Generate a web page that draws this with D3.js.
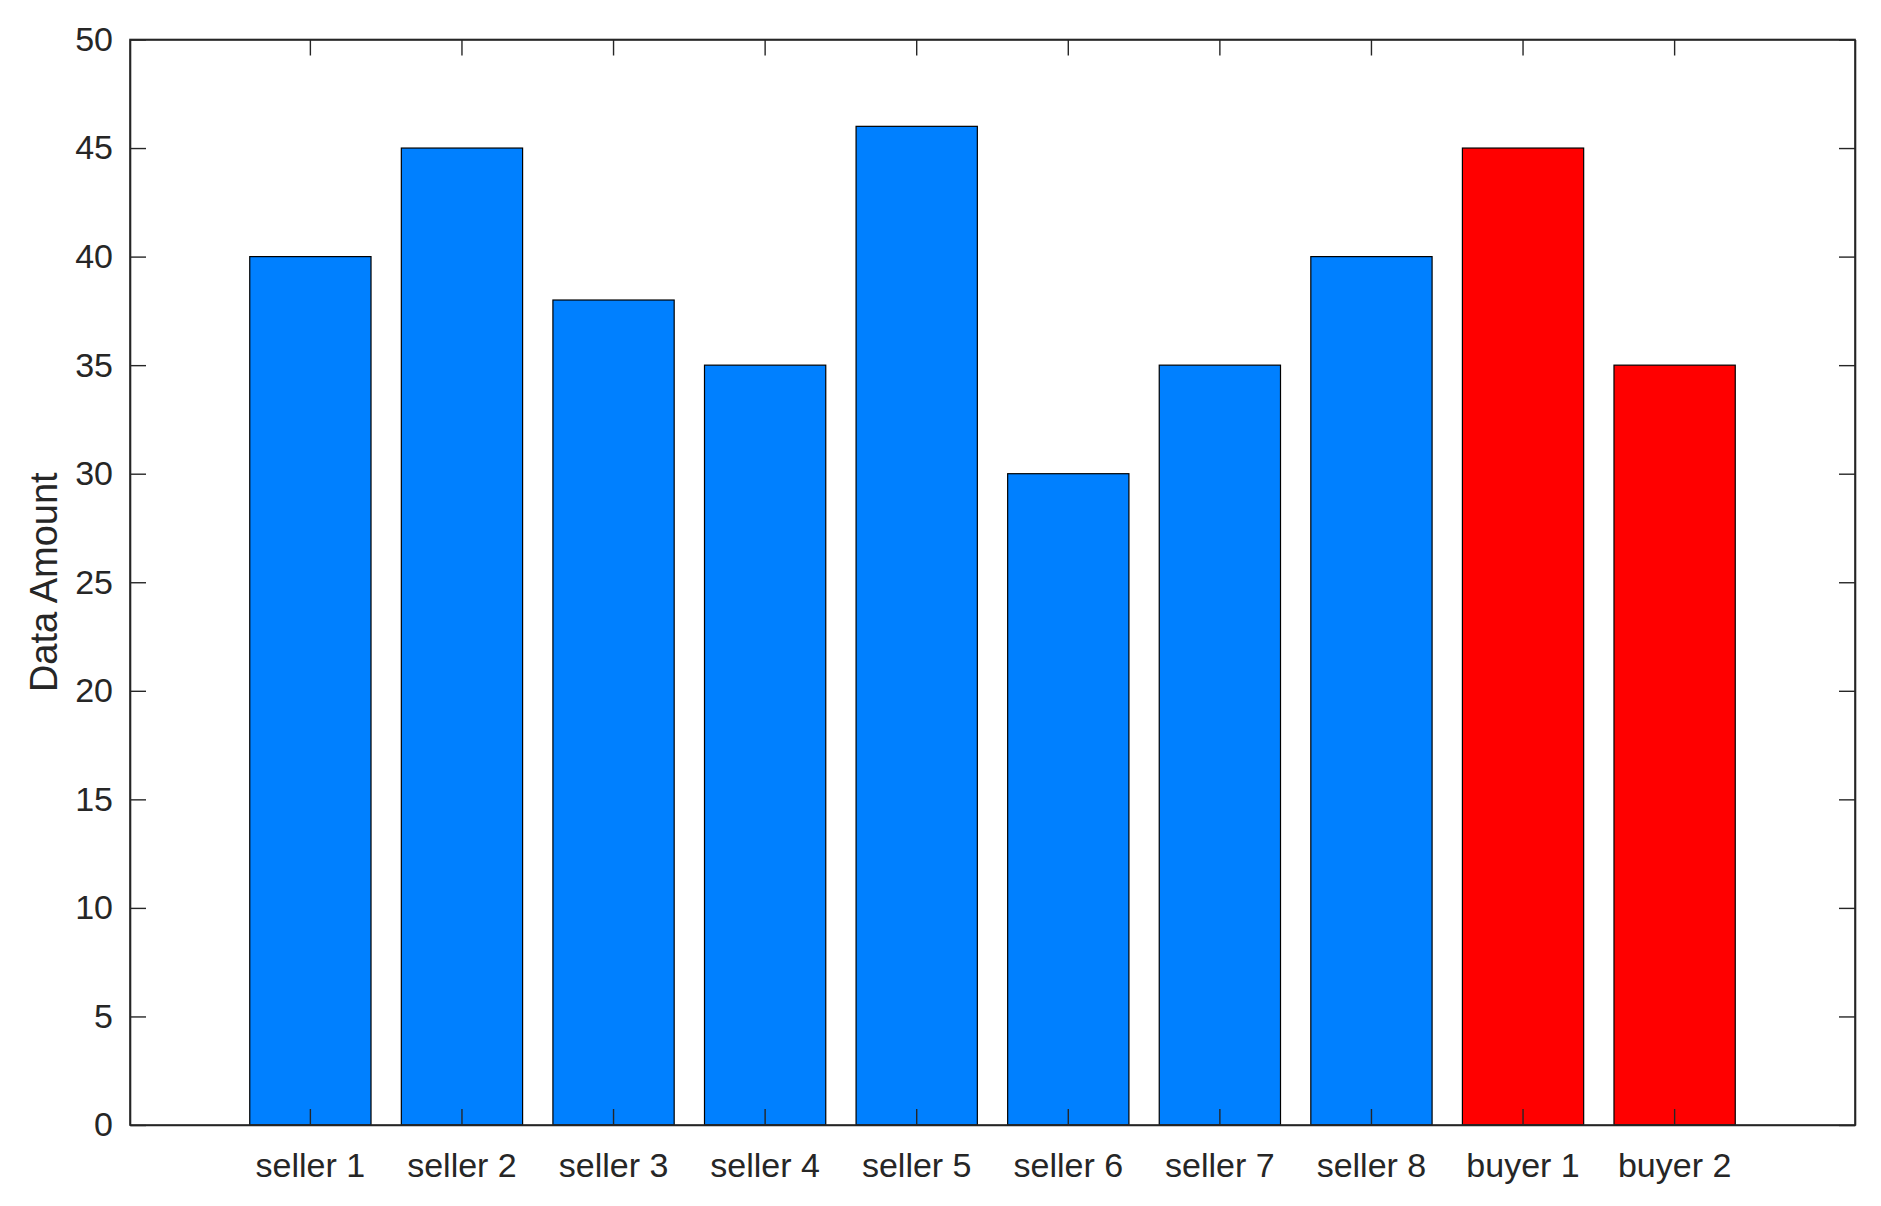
<!DOCTYPE html>
<html>
<head>
<meta charset="utf-8">
<script src="https://cdn.jsdelivr.net/npm/d3@7"></script>
<style>
  html, body { margin: 0; padding: 0; background: #fff; }
  svg { display: block; }
  text { font-family: "Liberation Sans", Arial, sans-serif; }
</style>
</head>
<body>
<script>
const categories = ["seller 1","seller 2","seller 3","seller 4","seller 5","seller 6","seller 7","seller 8","buyer 1","buyer 2"];
const values = [40, 45, 38, 35, 46, 30, 35, 40, 45, 35];
const barColors = ["#0080ff","#0080ff","#0080ff","#0080ff","#0080ff","#0080ff","#0080ff","#0080ff","#ff0000","#ff0000"];
const yTicks = [0, 5, 10, 15, 20, 25, 30, 35, 40, 45, 50];
const yLabel = "Data Amount";

(function () {
const W = 1881, H = 1206;
const pL = 130, pR = 1855, pT = 39.5, pB = 1125;
const axisColor = "#262626";

const svg = d3.select("body").append("svg").attr("width", W).attr("height", H);

const x = d3.scaleBand().domain(categories).range([pL, pR]).paddingInner(0.2).paddingOuter(0.79);
const y = d3.scaleLinear().domain([0, 50]).range([pB, pT]);

// bars
svg.append("g").selectAll("rect").data(values).join("rect")
  .attr("x", (d, i) => x(categories[i]))
  .attr("width", x.bandwidth())
  .attr("y", d => y(d))
  .attr("height", d => y(0) - y(d))
  .attr("fill", (d, i) => barColors[i])
  .attr("stroke", "#000")
  .attr("stroke-width", 1.2);

function styleAxis(g, fontSize) {
  g.selectAll("path.domain").attr("stroke", axisColor).attr("stroke-width", 1.6);
  g.selectAll(".tick line").attr("stroke", axisColor).attr("stroke-width", 1.4);
  g.selectAll("text").attr("fill", axisColor).style("font-size", fontSize + "px")
    .style("font-family", '"Liberation Sans", Arial, sans-serif');
}

const gL = svg.append("g").attr("transform", `translate(${pL},0)`)
  .call(d3.axisLeft(y).tickValues(yTicks).tickSizeInner(-16).tickSizeOuter(0).tickPadding(17));
styleAxis(gL, 34);

const gR = svg.append("g").attr("transform", `translate(${pR},0)`)
  .call(d3.axisRight(y).tickValues(yTicks).tickSizeInner(-16).tickSizeOuter(0).tickFormat(""));
styleAxis(gR, 34);

const gB = svg.append("g").attr("transform", `translate(0,${pB})`)
  .call(d3.axisBottom(x).tickSizeInner(-16).tickSizeOuter(0).tickPadding(28));
styleAxis(gB, 34);

const gT = svg.append("g").attr("transform", `translate(0,${pT})`)
  .call(d3.axisTop(x).tickSizeInner(-16).tickSizeOuter(0).tickFormat(""));
styleAxis(gT, 34);

svg.append("rect").attr("x", pL).attr("y", pT).attr("width", pR - pL).attr("height", pB - pT)
  .attr("fill", "none").attr("stroke", axisColor).attr("stroke-width", 1.6);

svg.append("text")
  .attr("transform", `translate(57,${(pT + pB) / 2}) rotate(-90)`)
  .attr("text-anchor", "middle")
  .attr("fill", axisColor)
  .style("font-size", "38px")
  .text(yLabel);
})();
</script>
</body>
</html>
